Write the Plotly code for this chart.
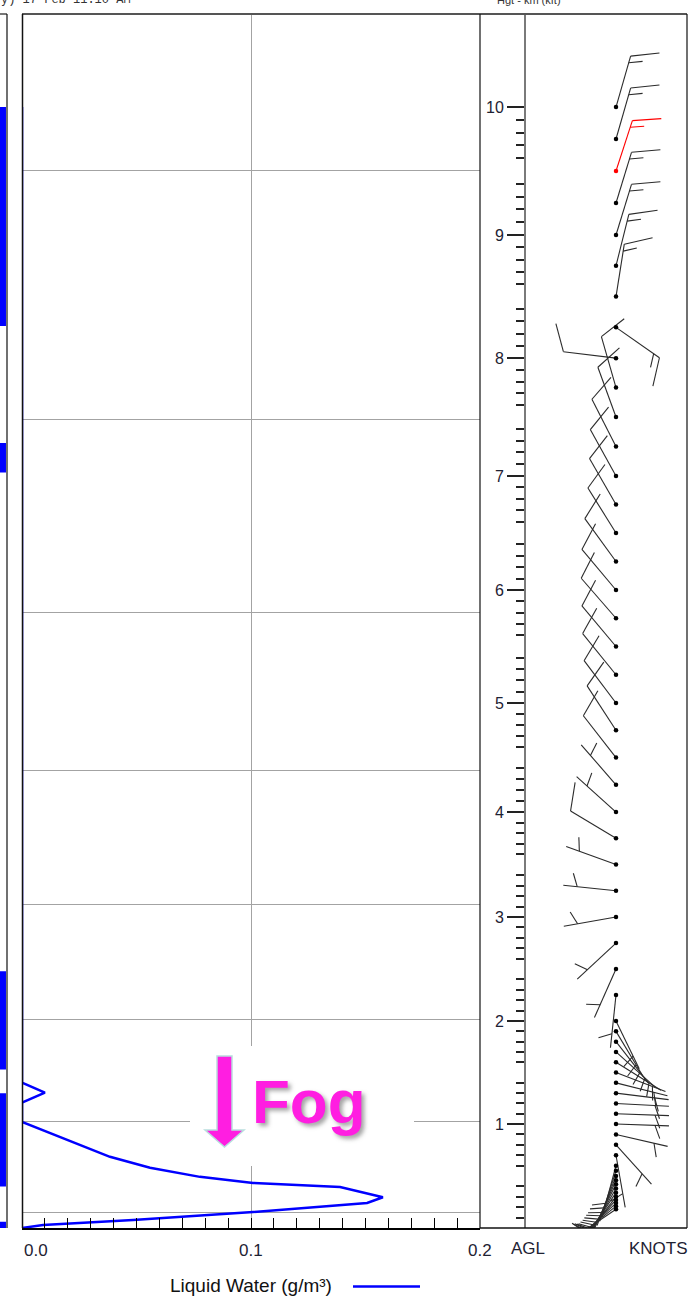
import numpy as np
import plotly.graph_objects as go

# ---------------- data ----------------
# height (km AGL) -> pressure (hPa) reference used by the vertical scale
km_heights = [0, 1, 2, 3, 4, 5, 6, 7, 8, 9, 10]
km_pressure = [1017.5, 902.4, 801.2, 710.5, 629.4, 554.9, 487.0, 426.9, 372.6, 323.2, 278.8]
kft_labels = [5, 10, 15, 20, 25, 30]
pressure_grid = [300, 400, 500, 600, 700, 800, 900, 1000]
x_ticks = [0.0, 0.1, 0.2]
x_tick_text = ["0.0", "0.1", "0.2"]

# liquid water profile
lw_height_km = [10.0, 1.403, 1.305, 1.208, 1.022, 0.849, 0.685, 0.579, 0.492, 0.434,
                0.395, 0.296, 0.241, 0.154, 0.077, 0.029, 0.0]
lw_value = [0.0, 0.0, 0.010, 0.0, 0.0, 0.0197, 0.0384, 0.0559, 0.0777, 0.1009,
            0.1389, 0.1576, 0.1507, 0.1009, 0.0485, 0.0092, 0.0]

# wind profile
wind_height_km = [10.0, 9.75, 9.5, 9.25, 9.0, 8.75, 8.5, 8.25,
                  8.0, 7.75, 7.5, 7.25, 7.0, 6.75, 6.5, 6.25, 6.0, 5.75, 5.5, 5.25, 5.0, 4.75, 4.5,
                  4.25, 4.0, 3.75,
                  3.5, 3.25, 3.0, 2.75, 2.5, 2.25, 2.0,
                  1.9, 1.8, 1.7, 1.6, 1.5, 1.4, 1.3, 1.2, 1.1, 1.0, 0.9, 0.8, 0.7, 0.6,
                  0.55, 0.5, 0.46, 0.42, 0.38, 0.34, 0.30, 0.27, 0.24, 0.21, 0.18]
wind_dir_deg = [16, 16, 18, 17, 17, 14, 9, 125,
                277, 344, 340, 333, 331, 330, 328, 324, 320, 319, 320, 321, 323, 327, 322,
                319, 312, 301,
                290, 276, 260, 227, 204, 186, 154,
                149, 142, 132, 122, 111, 104, 97, 93, 92, 92, 103, 138, 170, 195,
                198, 201, 204, 207, 210, 214, 218, 222, 227, 231, 236]
wind_speed_kt = [15, 15, 15, 15, 15, 15, 15, 15,
                 10, 10, 10, 10, 10, 10, 10, 10, 10, 10, 10, 10, 10, 10, 10,
                 5, 5, 10,
                 5, 5, 5, 5, 5, 5, 5,
                 5, 5, 5, 5, 5, 5, 5, 5, 5, 5, 5, 5, 5, 5,
                 5, 5, 5, 5, 5, 5, 5, 5, 5, 5, 5]
highlight_height_km = 9.5

# cloud layers of the neighbouring (cropped) panel
cloud_base_km = [8.26, 7.03, 1.53, 0.40, 0.0]
cloud_top_km = [10.0, 7.28, 2.48, 1.30, 0.06]

# ---------------- layout geometry ----------------
W, H = 693, 1305
Y_TOP_PX, Y_BOT_PX = 14, 1228
P_BOT, P_TOP = 1017.5, 250.4
yrange = [np.log10(P_BOT), np.log10(P_TOP)]
ydom = [1 - Y_BOT_PX / H, 1 - Y_TOP_PX / H]
PPD = (Y_BOT_PX - Y_TOP_PX) / (yrange[0] - yrange[1])  # pixels per decade

MAIN_X = [22, 480]
WIND_X = [480, 687]
AXIS_X = 525
DOT_X = 616


def px(x):
    return x / W


def py(y):
    return 1 - y / H


logk = np.log10(km_pressure)


def h2p(h):
    return 10 ** np.interp(np.asarray(h, dtype=float), km_heights, logk)


fig = go.Figure()

# ---------------- liquid water panel ----------------
fig.add_trace(go.Scatter(x=lw_value, y=h2p(lw_height_km), mode="lines",
                         line=dict(color="#0000ff", width=2.5),
                         xaxis="x", yaxis="y", showlegend=False, hoverinfo="skip"))

# ---------------- cloud strip ----------------
sx, sy = [], []
for b, t in zip(cloud_base_km, cloud_top_km):
    pb, pt = h2p(b), h2p(t)
    sx += [0, 1, 1, 0, 0, None]
    sy += [pb, pb, pt, pt, pb, None]
fig.add_trace(go.Scatter(x=sx, y=sy, mode="lines", fill="toself", fillcolor="#0000ff",
                         line=dict(color="#0000ff", width=0), xaxis="x3", yaxis="y6",
                         showlegend=False, hoverinfo="skip"))

# ---------------- wind barbs ----------------
STAFF = 53.0
FULL = 29.0
HALF = 14.0
SPACE = 7.0
BARB_ANGLE = 68.0


def barb(h, d, spd):
    y0 = np.log10(h2p(h))
    r = np.radians(d)
    ux, uy = np.sin(r), np.cos(r)
    br = np.radians(d + BARB_ANGLE)
    bx, by = np.sin(br), np.cos(br)
    tip = (STAFF * ux, STAFF * uy)
    segs = [((0.0, 0.0), tip)]
    nfull = int(spd // 10)
    half = (spd % 10) >= 5
    pos = 0.0
    for _ in range(nfull):
        s = (tip[0] - pos * ux, tip[1] - pos * uy)
        segs.append((s, (s[0] + FULL * bx, s[1] + FULL * by)))
        pos += SPACE
    if half:
        if nfull == 0:
            pos = 2 * SPACE
        s = (tip[0] - pos * ux, tip[1] - pos * uy)
        segs.append((s, (s[0] + HALF * bx, s[1] + HALF * by)))
    xs, ys = [], []
    for a, b in segs:
        for (ex, ey) in (a, b):
            xs.append(ex)
            ys.append(10 ** (y0 - ey / PPD))
        xs.append(None)
        ys.append(None)
    return xs, ys


bxk, byk, bxr, byr = [], [], [], []
for h, d, s in zip(wind_height_km, wind_dir_deg, wind_speed_kt):
    xs, ys = barb(h, d, s)
    if abs(h - highlight_height_km) < 1e-9:
        bxr += xs
        byr += ys
    else:
        bxk += xs
        byk += ys

fig.add_trace(go.Scatter(x=bxk, y=byk, mode="lines", line=dict(color="#2b2b2b", width=1.1),
                         xaxis="x2", yaxis="y2", showlegend=False, hoverinfo="skip"))
fig.add_trace(go.Scatter(x=bxr, y=byr, mode="lines", line=dict(color="#ff0000", width=1.1),
                         xaxis="x2", yaxis="y2", showlegend=False, hoverinfo="skip"))
dot_colors = ["#ff0000" if abs(h - highlight_height_km) < 1e-9 else "#000000" for h in wind_height_km]
fig.add_trace(go.Scatter(x=[0] * len(wind_height_km), y=h2p(wind_height_km), mode="markers",
                         marker=dict(color=dot_colors, size=4.5), xaxis="x2", yaxis="y2",
                         showlegend=False, hoverinfo="skip", cliponaxis=False))

# ---------------- axes ----------------
km_major = km_heights[1:]
km_half = [k + 0.5 for k in km_heights[:-1]]
km_minor = [round(i * 0.1, 1) for i in range(1, 101) if i % 5 != 0]
kft_minor = [k for k in range(1, 34) if k % 5 != 0]
kft_to_km = 0.3048

NARROW = "Liberation Sans Narrow, Arial Narrow, Liberation Sans, Arial, sans-serif"
tickfont = dict(family=NARROW, size=16, color="#1e2233")

base_y = dict(type="log", range=yrange, domain=ydom, showgrid=False, zeroline=False)

fig.update_layout(
    width=W, height=H, margin=dict(l=0, r=0, t=0, b=0),
    paper_bgcolor="white", plot_bgcolor="rgba(0,0,0,0)",
    xaxis=dict(domain=[px(MAIN_X[0]), px(MAIN_X[1])], range=[0, 0.2], anchor="y",
               tickvals=x_ticks, showticklabels=False, showgrid=True, gridcolor="#a3a3a3",
               gridwidth=1, ticks="inside", ticklen=10, tickcolor="#000", tickwidth=1,
               minor=dict(dtick=0.01, ticks="inside", ticklen=10, tickcolor="#000", tickwidth=1,
                          showgrid=False),
               showline=True, linecolor="#000", linewidth=2, zeroline=False),
    yaxis=dict(base_y, anchor="x", tickvals=pressure_grid, showticklabels=False,
               showgrid=True, gridcolor="#a3a3a3", gridwidth=1, ticks=""),
    xaxis2=dict(domain=[px(WIND_X[0]), px(WIND_X[1])], range=[WIND_X[0] - DOT_X,
                                                              WIND_X[1] - DOT_X],
                anchor="y2", visible=False),
    yaxis2=dict(base_y, anchor="free", position=px(AXIS_X), side="left",
                tickvals=h2p(km_major), ticktext=[str(k) for k in km_major],
                ticks="outside", ticklen=17, tickwidth=1.6, tickcolor="#222",
                tickfont=tickfont, showline=True, linecolor="#7a7a7a", linewidth=2,
                minor=dict(tickvals=h2p(km_minor), ticks="outside", ticklen=8,
                           tickwidth=1.6, tickcolor="#222", showgrid=False)),
    yaxis3=dict(base_y, overlaying="y2", anchor="free", position=px(AXIS_X), side="left",
                tickvals=h2p(km_half), showticklabels=False, ticks="outside", ticklen=13,
                tickwidth=1.6, tickcolor="#222", showline=False),
    yaxis4=dict(base_y, overlaying="y2", anchor="free", position=px(AXIS_X), side="right",
                tickvals=h2p([k * kft_to_km for k in kft_labels]),
                ticktext=[str(k) for k in kft_labels], ticks="outside", ticklen=15,
                tickwidth=1.6, tickcolor="#222", tickfont=tickfont, showline=False,
                minor=dict(tickvals=h2p([k * kft_to_km for k in kft_minor]), ticks="outside",
                           ticklen=10, tickwidth=1.6, tickcolor="#222", showgrid=False)),
    yaxis5=dict(base_y, overlaying="y2", anchor="free", position=px(AXIS_X), side="left",
                tickvals=h2p([k * kft_to_km for k in kft_labels]), showticklabels=False,
                ticks="outside", ticklen=13, tickwidth=1.6, tickcolor="#222", showline=False),
    xaxis3=dict(domain=[0, px(7)], range=[0, 1.17], anchor="y6", visible=False),
    yaxis6=dict(base_y, anchor="x3", visible=False),
)

# ---------------- frame lines ----------------
shapes = []


def hline(x0, x1, y, color, w):
    shapes.append(dict(type="line", xref="paper", yref="paper", x0=px(x0), x1=px(x1),
                       y0=py(y), y1=py(y), line=dict(color=color, width=w)))


def vline(x, y0, y1, color, w):
    shapes.append(dict(type="line", xref="paper", yref="paper", x0=px(x), x1=px(x),
                       y0=py(y0), y1=py(y1), line=dict(color=color, width=w)))


hline(MAIN_X[0], WIND_X[1], Y_TOP_PX, "#555555", 2)
hline(0, 7, Y_TOP_PX, "#777777", 2)
vline(7, Y_TOP_PX, Y_BOT_PX, "#111111", 1.2)
vline(MAIN_X[0] + 0.5, Y_TOP_PX, Y_BOT_PX, "#111111", 1.5)
vline(MAIN_X[1], Y_TOP_PX, Y_BOT_PX, "#111111", 1.2)
vline(WIND_X[1], Y_TOP_PX, Y_BOT_PX, "#111111", 1.2)
hline(WIND_X[0], WIND_X[1], Y_BOT_PX, "#111111", 1.6)

# Fog callout: white box, arrow
shapes.append(dict(type="rect", xref="paper", yref="paper", x0=px(190), x1=px(414),
                   y0=py(1166), y1=py(1046), fillcolor="white", line=dict(width=0),
                   layer="above"))
arrow = [(217, 1056), (232, 1056), (232, 1130), (244, 1130), (224.5, 1147), (205, 1130),
         (217, 1130)]
path = "M " + " L ".join(f"{px(a):.5f},{py(b):.5f}" for a, b in arrow) + " Z"
shapes.append(dict(type="path", xref="paper", yref="paper", path=path,
                   fillcolor="#ff1ee1", line=dict(color="#b9dede", width=1.5), layer="above"))
# legend sample line
hline(353, 420, 1286.5, "#0000ff", 2.5)
fig.update_layout(shapes=shapes)

# ---------------- texts ----------------
lab_font = dict(family=NARROW, size=17, color="#1e2233")
ann = []
for v, t in zip(x_ticks, x_tick_text):
    ann.append(dict(x=v, y=py(1250), xref="x", yref="paper", text=t, showarrow=False,
                    xanchor="left" if v == 0 else "center", yanchor="middle", font=lab_font))
ann.append(dict(x=px(251), y=py(1285), xref="paper", yref="paper", text="Liquid Water (g/m³)",
                showarrow=False, xanchor="center", yanchor="middle",
                font=dict(lab_font, size=19, color="#111")))
ann.append(dict(x=px(528), y=py(1248), xref="paper", yref="paper", text="AGL", showarrow=False,
                xanchor="center", yanchor="middle", font=lab_font))
ann.append(dict(x=px(658), y=py(1248), xref="paper", yref="paper", text="KNOTS", showarrow=False,
                xanchor="center", yanchor="middle", font=lab_font))
ann.append(dict(x=px(250), y=py(1101), xref="paper", yref="paper", text="<b>Fog</b>",
                showarrow=False, xanchor="left", yanchor="middle",
                font=dict(family="Liberation Sans, Arial, sans-serif", size=62, color="#ff1ee1",
                          shadow="3px 3px 4px rgba(90,90,90,0.55)")))
# clipped header texts at the very top
ann.append(dict(x=px(-1), y=py(9), xref="paper", yref="paper", text="y) 17 Feb 11:10 AM",
                showarrow=False, xanchor="left", yanchor="bottom",
                font=dict(family="Liberation Mono, Courier New, monospace", size=12, color="#333")))
ann.append(dict(x=px(495), y=py(8), xref="paper", yref="paper", text="Hgt - km (kft)",
                showarrow=False, xanchor="left", yanchor="bottom",
                font=dict(family="Liberation Sans, Arial, sans-serif", size=11, color="#333")))
fig.update_layout(annotations=ann)

fig.write_html("out.html", config={"displayModeBar": False},
               post_script="document.body.style.margin='0px';document.body.style.padding='0px';")
